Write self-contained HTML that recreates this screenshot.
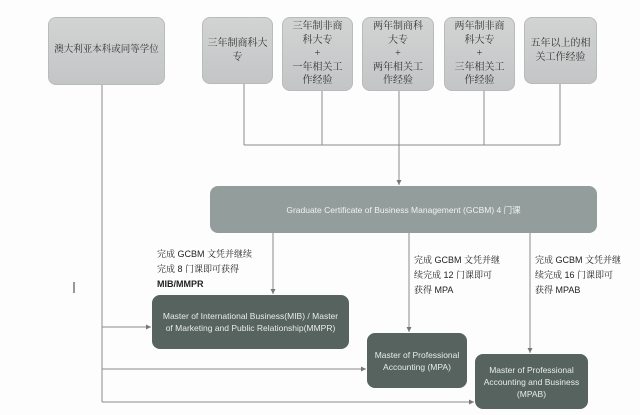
<!DOCTYPE html>
<html><head><meta charset="utf-8"><style>
body{margin:0;width:640px;height:415px;background:#fdfdfd;position:relative;overflow:hidden;font-family:"Liberation Sans","Noto Sans CJK SC",sans-serif}
.b{position:absolute;box-sizing:border-box;display:flex;align-items:center;justify-content:center;text-align:center;border-radius:8px}
.t{background:linear-gradient(#d2d4d4,#c3c5c6);color:#333;font-family:"Liberation Serif","Noto Serif CJK SC",serif;font-size:10px;line-height:13.5px;border:1px solid #b8babb}
.d{background:#56635f;color:#e8ecea;font-size:8.5px;line-height:12px}
.l{position:absolute;font-size:9px;line-height:15px;color:#222;font-family:"Liberation Sans","Noto Serif CJK SC",sans-serif;white-space:nowrap}
</style></head><body>
<svg width="640" height="415" style="position:absolute;left:0;top:0">
<defs><marker id="a" markerWidth="6" markerHeight="6" refX="5" refY="3" orient="auto"><path d="M0,0.5 L5,3 L0,5.5z" fill="#777"/></marker></defs>
<g stroke="#8a8a8a" stroke-width="1" fill="none">
<line x1="244" y1="84" x2="244" y2="145"/><line x1="322" y1="91" x2="322" y2="145"/><line x1="484" y1="91" x2="484" y2="145"/><line x1="560" y1="84" x2="560" y2="145"/>
<line x1="244" y1="145" x2="560" y2="145"/>
<line x1="399" y1="91" x2="399" y2="185" marker-end="url(#a)"/>
<line x1="273" y1="233" x2="273" y2="294" marker-end="url(#a)"/>
<line x1="409" y1="233" x2="409" y2="332" marker-end="url(#a)"/>
<line x1="530" y1="233" x2="530" y2="353" marker-end="url(#a)"/>
<line x1="102" y1="85" x2="102" y2="402"/>
<line x1="102" y1="327" x2="151" y2="327" marker-end="url(#a)"/>
<line x1="102" y1="369" x2="366" y2="369" marker-end="url(#a)"/>
<line x1="102" y1="402" x2="474" y2="402" marker-end="url(#a)"/>
<line x1="74" y1="282" x2="74" y2="293" stroke="#333"/>
</g></svg>
<div class="b t" style="left:48px;top:17px;width:117px;height:68px;white-space:nowrap;font-size:9.5px">澳大利亚本科或同等学位</div>
<div class="b t" style="left:202px;top:17px;width:71px;height:67px">三年制商科大<br>专</div>
<div class="b t" style="left:282px;top:17px;width:71px;height:74px">三年制非商<br>科大专<br>+<br>一年相关工<br>作经验</div>
<div class="b t" style="left:362px;top:17px;width:72px;height:74px">两年制商科<br>大专<br>+<br>两年相关工<br>作经验</div>
<div class="b t" style="left:444px;top:17px;width:71px;height:74px">两年制非商<br>科大专<br>+<br>三年相关工<br>作经验</div>
<div class="b t" style="left:524px;top:17px;width:73px;height:67px">五年以上的相<br>关工作经验</div>
<div class="b" style="left:210px;top:186px;width:387px;height:47px;background:#939d9b;color:#f0f2f1;font-size:8.5px">Graduate Certificate of Business Management (GCBM) 4 门课</div>
<div class="b d" style="left:152px;top:295px;width:197px;height:54px">Master of International Business(MIB) / Master<br>of Marketing and Public Relationship(MMPR)</div>
<div class="b d" style="left:367px;top:333px;width:100px;height:55px">Master of Professional<br>Accounting (MPA)</div>
<div class="b d" style="left:475px;top:354px;width:113px;height:55px">Master of Professional<br>Accounting and Business<br>(MPAB)</div>
<div class="l" style="left:157px;top:247px">完成 GCBM 文凭并继续<br>完成 8 门课即可获得<br><b>MIB/MMPR</b></div>
<div class="l" style="left:414px;top:253px">完成 GCBM 文凭并继<br>续完成 12 门课即可<br>获得 MPA</div>
<div class="l" style="left:535px;top:253px">完成 GCBM 文凭并继<br>续完成 16 门课即可<br>获得 MPAB</div>
</body></html>
